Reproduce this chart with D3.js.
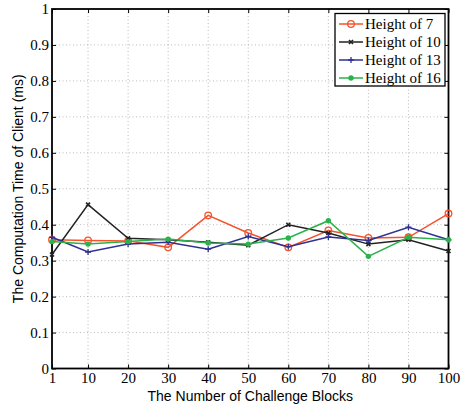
<!DOCTYPE html>
<html><head><meta charset="utf-8">
<script src="https://cdn.jsdelivr.net/npm/d3@7"></script>
<style>body{margin:0;background:#fff}svg{display:block}
.serif{font-family:"Liberation Serif","DejaVu Serif",serif}
.sans{font-family:"Liberation Sans",Arial,sans-serif}
</style>
</head><body>
<script>
const xValues = [1,10,20,30,40,50,60,70,80,90,100];
const h7  = [0.358,0.356,0.355,0.337,0.426,0.377,0.337,0.384,0.363,0.365,0.431];
const h10 = [0.317,0.456,0.362,0.358,0.351,0.343,0.400,0.377,0.346,0.358,0.327];
const h13 = [0.365,0.324,0.346,0.351,0.332,0.367,0.339,0.366,0.356,0.393,0.358];
const h16 = [0.353,0.346,0.353,0.360,0.349,0.346,0.363,0.411,0.312,0.365,0.358];
const seriesNames = ["Height of 7","Height of 10","Height of 13","Height of 16"];
const yTicks = [0,0.1,0.2,0.3,0.4,0.5,0.6,0.7,0.8,0.9,1];
const xTicks = [1,10,20,30,40,50,60,70,80,90,100];
const colors = ["#f4532d","#222222","#2e3192","#2bb24c"];
const markers = ["circle","x","plus","dot"];

const W=462,H=409, L=52, R=448.5, T=9, B=368.5;
const svg = d3.select("body").append("svg").attr("width",W).attr("height",H);
const x = d3.scaleLinear().domain([1,100]).range([L,R]);
const y = d3.scaleLinear().domain([0,1]).range([B,T]);

// grid
const g = svg.append("g");
g.selectAll(".gx").data(xTicks.slice(1,-1)).enter().append("line")
 .attr("x1",d=>x(d)).attr("x2",d=>x(d)).attr("y1",T).attr("y2",B)
 .attr("stroke","#aaa").attr("stroke-width",0.8).attr("stroke-dasharray","1,2.5");
g.selectAll(".gy").data(yTicks.slice(1,-1)).enter().append("line")
 .attr("y1",d=>y(d)).attr("y2",d=>y(d)).attr("x1",L).attr("x2",R)
 .attr("stroke","#aaa").attr("stroke-width",0.8).attr("stroke-dasharray","1,2.5");

// axes with inner ticks
const ax = svg.append("g").attr("transform",`translate(0,${B})`)
 .call(d3.axisBottom(x).tickValues(xTicks).tickSize(-4).tickPadding(4).tickFormat(d3.format("d")));
const ay = svg.append("g").attr("transform",`translate(${L},0)`)
 .call(d3.axisLeft(y).tickValues(yTicks).tickSize(-4).tickPadding(3).tickFormat(d=>d===0||d===1?String(d):d3.format(".1f")(d)));
const axT = svg.append("g").attr("transform",`translate(0,${T})`)
 .call(d3.axisTop(x).tickValues(xTicks).tickSize(-4).tickFormat(""));
const ayR = svg.append("g").attr("transform",`translate(${R},0)`)
 .call(d3.axisRight(y).tickValues(yTicks).tickSize(-4).tickFormat(""));
[ax,ay,axT,ayR].forEach(a=>{
  a.attr("font-family",null).attr("font-size",null);
  a.select(".domain").remove();
  a.selectAll(".tick line").attr("stroke","#000").attr("stroke-width",1);
  a.selectAll("text").attr("class","serif").style("font-size","15px").attr("fill","#000");
});
ax.selectAll("text").attr("dy","0.71em");
svg.append("rect").attr("x",L).attr("y",T).attr("width",R-L).attr("height",B-T)
 .attr("fill","none").attr("stroke","#000").attr("stroke-width",1.8);

// series
const all = [h7,h10,h13,h16];
function drawMarker(sel, type, color, cx, cy){
  if(type==="circle") sel.append("circle").attr("cx",cx).attr("cy",cy).attr("r",3.3).attr("fill","none").attr("stroke",color).attr("stroke-width",1.3);
  else if(type==="dot") sel.append("circle").attr("cx",cx).attr("cy",cy).attr("r",2.7).attr("fill",color);
  else if(type==="x"){ const s=2; sel.append("path").attr("d",`M${cx-s},${cy-s}L${cx+s},${cy+s}M${cx-s},${cy+s}L${cx+s},${cy-s}`).attr("stroke",color).attr("stroke-width",1.6); }
  else if(type==="plus"){ const s=3; sel.append("path").attr("d",`M${cx-s},${cy}L${cx+s},${cy}M${cx},${cy-s}L${cx},${cy+s}`).attr("stroke",color).attr("stroke-width",1.3); }
}
const line = d3.line().x((d,i)=>x(xValues[i])).y(d=>y(d));
all.forEach((vals,k)=>{
  const gs = svg.append("g");
  gs.append("path").datum(vals).attr("d",line).attr("fill","none").attr("stroke",colors[k]).attr("stroke-width",1.5);
  vals.forEach((v,i)=>drawMarker(gs,markers[k],colors[k],x(xValues[i]),y(v)));
});

// legend
const lg = svg.append("g");
lg.append("rect").attr("x",335).attr("y",13.5).attr("width",110).attr("height",72.5).attr("fill","#fff").attr("stroke","#000").attr("stroke-width",1.3);
seriesNames.forEach((n,k)=>{
  const yy = 24 + k*18;
  lg.append("line").attr("x1",339).attr("x2",363).attr("y1",yy).attr("y2",yy).attr("stroke",colors[k]).attr("stroke-width",1.5);
  drawMarker(lg,markers[k],colors[k],351,yy);
  lg.append("text").attr("class","serif").attr("x",365).attr("y",yy).attr("dy","0.35em").style("font-size","15px").text(n);
});

// titles
svg.append("text").attr("class","sans").attr("x",(L+R)/2).attr("y",401).attr("text-anchor","middle").style("font-size","14px").text("The Number of Challenge Blocks");
svg.append("text").attr("class","sans").attr("transform",`translate(23,${(T+B)/2}) rotate(-90)`).attr("text-anchor","middle").style("font-size","14px").text("The Computation Time of Client (ms)");
</script>
</body></html>
